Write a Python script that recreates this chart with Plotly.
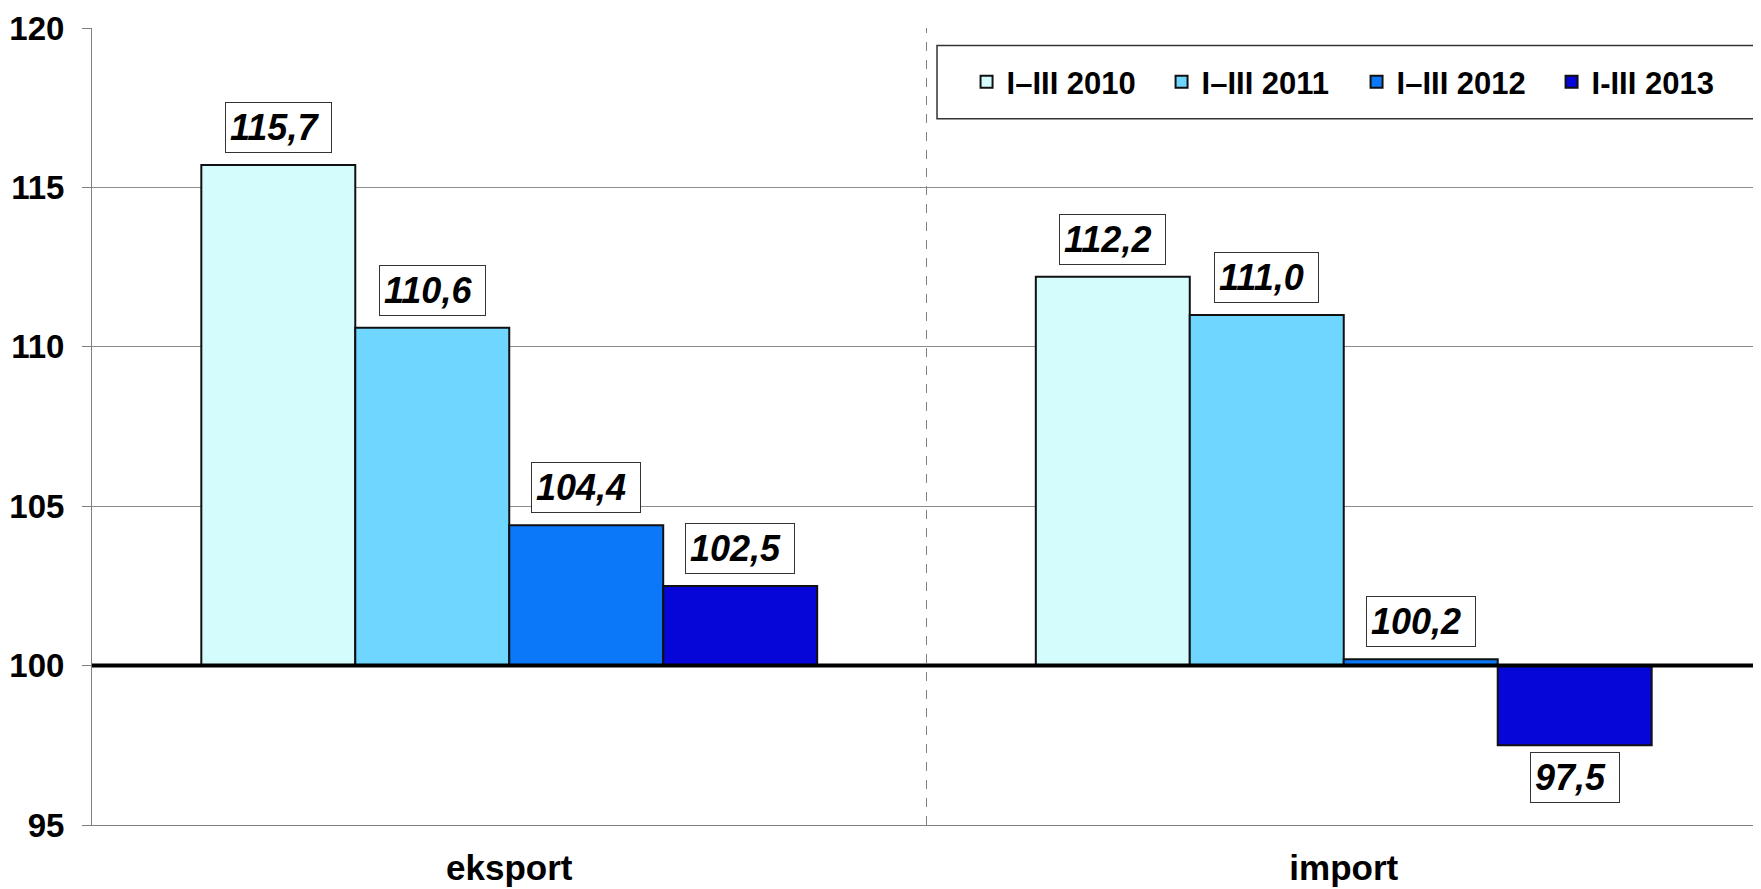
import plotly.graph_objects as go

categories = ["eksport", "import"]
series_names = ["I–III 2010", "I–III 2011", "I–III 2012", "I-III 2013"]
v2010 = [115.7, 112.2]
v2011 = [110.6, 111.0]
v2012 = [104.4, 100.2]
v2013 = [102.5, 97.5]
series_values = [v2010, v2011, v2012, v2013]
colors = ["#D4FCFC", "#6ED6FF", "#0A78F8", "#0606D8"]
base_value = 100
y_ticks = [95, 100, 105, 110, 115, 120]

FONT = "Arial, 'Liberation Sans', sans-serif"
W, H = 1761, 889
# page body adds an 8px offset; margins compensate so the plot sits where the reference has it
ML, MR, MT, MB = 84, 8, 20, 72
bargap = 0.262

fig = go.Figure()
for name, vals, col in zip(series_names, series_values, colors):
    fig.add_trace(go.Bar(
        name=name,
        x=categories,
        y=[v - base_value for v in vals],
        base=base_value,
        marker=dict(color=col, line=dict(color="#111111", width=2)),
        hovertext=[f"{v:.1f}" for v in vals],
    ))

# data labels as boxed annotations
n = len(series_values)
bw = (1 - bargap) / n
annotations = []
for i, vals in enumerate(series_values):
    off = -(1 - bargap) / 2 + (i + 0.5) * bw
    for ci, v in enumerate(vals):
        pos = v >= base_value
        annotations.append(dict(
            x=ci + off, y=v, xref="x", yref="y",
            text=f"<b><i>{v:.1f} </i></b>".replace(".", ","),
            showarrow=False,
            yanchor="bottom" if pos else "top",
            yshift=12 if pos else -7,
            font=dict(family=FONT, size=36, color="black"),
            bgcolor="white", bordercolor="#333333", borderwidth=1, borderpad=4,
        ))

shapes = [
    # divider between categories
    dict(type="line", xref="x", yref="y", x0=0.5, x1=0.5, y0=y_ticks[0], y1=y_ticks[-1],
         line=dict(color="#808080", width=1, dash="dash"), layer="below"),
    # baseline at 100
    dict(type="line", xref="paper", yref="y", x0=0, x1=1, y0=base_value, y1=base_value,
         line=dict(color="black", width=4), layer="above"),
    # legend frame
    dict(type="rect", xref="paper", yref="paper", x0=0.5063, x1=0.9964, y0=0.886, y1=0.978,
         line=dict(color="#333333", width=1.5), fillcolor="white", layer="above"),
]

fig.update_layout(
    width=W, height=H,
    margin=dict(l=ML, r=MR, t=MT, b=MB, autoexpand=False),
    paper_bgcolor="white", plot_bgcolor="white",
    barmode="group", bargap=bargap, bargroupgap=0,
    font=dict(family=FONT, color="black"),
    showlegend=True,
    legend=dict(
        orientation="h", x=0.524, xanchor="left", y=0.932, yanchor="middle",
        bgcolor="rgba(0,0,0,0)", borderwidth=0,
        font=dict(family=FONT, size=31, color="black", weight="bold"),
        entrywidth=150, entrywidthmode="pixels", itemwidth=30,
        traceorder="normal",
    ),
    annotations=annotations,
    shapes=shapes,
)
fig.update_yaxes(
    range=[y_ticks[0], y_ticks[-1]], tickvals=y_ticks,
    showgrid=True, gridcolor="#8c8c8c", gridwidth=1,
    showline=True, linecolor="#808080", linewidth=1,
    ticks="outside", ticklen=9, tickcolor="#808080",
    tickfont=dict(family=FONT, size=33, color="black", weight="bold"),
    ticklabelstandoff=11, zeroline=False, ticklabeloverflow="allow",
)
fig.update_xaxes(
    showline=True, linecolor="#808080", linewidth=1,
    ticks="", showgrid=False,
    tickfont=dict(family=FONT, size=35, color="black", weight="bold"),
    ticklabelstandoff=12,
)

fig.write_html("out.html")
